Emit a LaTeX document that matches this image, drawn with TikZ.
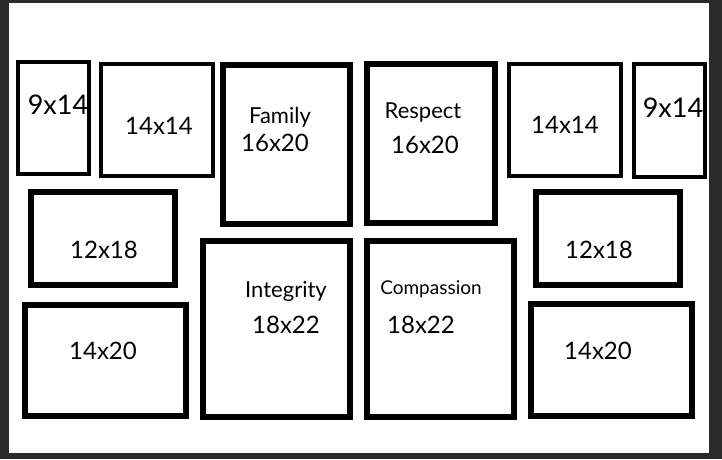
\documentclass[tikz,border=0pt]{standalone}
\usepackage{fontspec}
\setmainfont{Lato}
\usepackage{xcolor}
\usepackage{tikz}

\definecolor{wallgrey}{RGB}{42,42,42}

\tikzset{
  frame/.style = {draw = black, fill = white, line width = #1},
  frame/.default = 6pt,
  size/.style = {anchor = base, inner sep = 0pt, font = \fontsize{#1}{#1}\selectfont},
  size/.default = 24pt
}

\begin{document}
\begin{tikzpicture}[x = 1pt, y = -1pt]
  \fill[wallgrey] (0,0) rectangle (722,459);
  \fill[white] (9,3) rectangle (709,453);

  % top row
  \draw[frame = 4pt] (18,62) rectangle (89,174);
  \draw[frame = 4.5pt] (101,64) rectangle (213,176);
  \draw[frame] (223,65) rectangle (350,224);
  \draw[frame] (367,64) rectangle (495,223);
  \draw[frame = 4.5pt] (509,64) rectangle (621,176);
  \draw[frame = 4pt] (634,64) rectangle (705,177);

  % middle and bottom
  \draw[frame = 5.5pt] (31,192) rectangle (175,285);
  \draw[frame = 5.5pt] (536,192) rectangle (680,285);
  \draw[frame = 6.5pt] (203,241) rectangle (350,417);
  \draw[frame = 6.5pt] (367,241) rectangle (514,417);
  \draw[frame] (25,305) rectangle (186,416);
  \draw[frame] (531,304) rectangle (692,416);

  \node[size = 27pt] (nineL) at (58,114) {9x14};
  \node[size] (fourteenL) at (159,134) {14x14};
  \node[size = 22pt] (family) at (280,123) {Family};
  \node[size] (familysize) at (275,151) {16x20};
  \node[size = 22pt] (respect) at (423,118) {Respect};
  \node[size] (respectsize) at (425,153) {16x20};
  \node[size] (fourteenR) at (565,133) {14x14};
  \node[size = 27pt] (nineR) at (673,117) {9x14};

  \node[size] (twelveL) at (104,258) {12x18};
  \node[size] (twelveR) at (599,258) {12x18};

  \node[size = 22pt] (integrity) at (286,297) {Integrity};
  \node[size] (integritysize) at (286,333) {18x22};
  \node[size = 19pt] (compassion) at (431,294) {Compassion};
  \node[size] (compassionsize) at (421,333) {18x22};

  \node[size] (twentyL) at (103,359) {14x20};
  \node[size] (twentyR) at (598,359) {14x20};
\end{tikzpicture}
\end{document}
